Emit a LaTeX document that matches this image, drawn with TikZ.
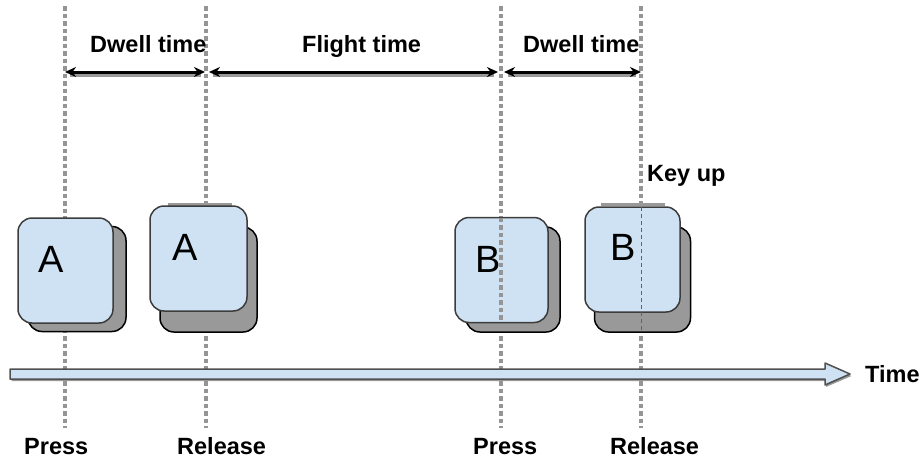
\documentclass[tikz,border=0pt]{standalone}
\usepackage{fontspec}
\setmainfont{Liberation Sans}
\usetikzlibrary{arrows.meta,calc}
\definecolor{keyblue}{HTML}{CFE2F3}
\definecolor{guidegray}{HTML}{959595}
\definecolor{basegray}{HTML}{999999}
\definecolor{edgegray}{HTML}{3C3C3C}
\begin{document}
\begin{tikzpicture}[x=1pt,y=-1pt,
  guide/.style={draw=guidegray,line width=3.5pt,dash pattern=on 4.5pt off 3pt},
  guidethin/.style={draw=edgegray!80,line width=1pt,dash pattern=on 4pt off 3pt},
  keyfront/.style={draw=edgegray,line width=1.5pt,fill=keyblue,rounded corners=14pt,
    minimum width=#1,minimum height=105pt,inner sep=0pt,outer sep=0pt},
  keybase/.style={draw=black,line width=1.5pt,fill=basegray,rounded corners=14pt,
    minimum width=#1,minimum height=105pt,inner sep=0pt,outer sep=0pt},
  keybar/.style={fill=basegray,minimum width=64pt,minimum height=3pt,inner sep=0pt},
  keyletter/.style={font=\fontsize{38}{40}\selectfont,inner sep=0pt,anchor=base west},
  lbl/.style={font=\fontsize{23.5}{26}\selectfont\bfseries,inner sep=0pt,anchor=base west},
  span/.style={line width=3pt,draw=black,{Stealth[length=11pt,width=10pt]}-{Stealth[length=11pt,width=10pt]}},
  spanshade/.style={line width=3pt,draw=basegray,shorten <=4pt,shorten >=4pt},
]
\useasboundingbox (0,0) rectangle (922,464);

% event instants on the time axis
\coordinate (t1) at (65,0);
\coordinate (t2) at (206,0);
\coordinate (t3) at (501,0);
\coordinate (t4) at (641,0);

% vertical guides
\foreach \t in {t1,t2,t3,t4}
  \draw[guide] ($(\t)+(0,6)$) -- ($(\t)+(0,428)$);

% interval arrows
\coordinate (a1) at (65,72);
\coordinate (a2) at (206,72);
\coordinate (a3) at (501,72);
\coordinate (a4) at (641,72);
\draw[spanshade] ($(a1)+(1,3)$) -- ($(a2)+(-1,3)$);
\draw[spanshade] ($(a2)+(3,3)$) -- ($(a3)+(-3,3)$);
\draw[spanshade] ($(a3)+(3,3)$) -- ($(a4)+(-1,3)$);
\draw[span,shorten >=1pt] (a1) -- (a2);
\draw[span,shorten <=3pt,shorten >=3pt] (a2) -- (a3);
\draw[span,shorten <=3pt] (a3) -- (a4);

\node[lbl] (dwell1) at (90,52) {Dwell time};
\node[lbl] (flight) at (302,52) {Flight time};
\node[lbl] (dwell2) at (523,52) {Dwell time};
\node[lbl] (keyup) at (647,181) {Key up};

% key A, pressed
\node[keybase=98pt] (baseA1) at (77,279) {};
\node[keyfront=95pt] (keyA1) at (65.5,270.5) {};
\node[keyletter] (letA1) at (38,272) {A};

% key A, released
\node[keybar] (barA2) at (200,204.5) {};
\node[keybase=97pt] (baseA2) at (208.5,279.5) {};
\node[keyfront=97pt] (keyA2) at (198.5,258.5) {};
\node[keyletter] (letA2) at (172,260) {A};

% key B, pressed
\node[keybase=94pt] (baseB1) at (513,279.5) {};
\node[keyfront=93pt] (keyB1) at (501.5,270) {};
\draw[guide] (keyB1.north -| t3) -- (keyB1.south -| t3);
\node[keyletter] (letB1) at (475,272) {B};

% key B, released
\node[keybar] (barB2) at (632.5,204.5) {};
\node[keybase=96pt] (baseB2) at (642.5,279.5) {};
\node[keyfront=95pt] (keyB2) at (632.5,259.5) {};
\draw[guidethin] (keyB2.north -| t4) -- (baseB2.south -| t4);
\node[keyletter] (letB2) at (610,260) {B};

% time axis
\coordinate (ts) at (10,374);
\coordinate (te) at (850,374);
\fill[basegray] ($(ts)+(1.5,-3)$) -- ($(te)+(-24,-3)$) -- ($(te)+(-24,-9)$)
  -- ($(te)+(1.5,2)$) -- ($(te)+(-24,13)$) -- ($(te)+(-24,7)$) -- ($(ts)+(1.5,7)$) -- cycle;
\draw[draw=edgegray!90,line width=1.5pt,fill=keyblue,line join=round]
  ($(ts)+(0,-5)$) -- ($(te)+(-25,-5)$) -- ($(te)+(-25,-11)$) -- (te)
  -- ($(te)+(-25,11)$) -- ($(te)+(-25,5)$) -- ($(ts)+(0,5)$) -- cycle;
\node[lbl] (time) at (865,382) {Time};

% event names
\node[lbl] (press1) at (24,454) {Press};
\node[lbl] (rel1) at (177,454) {Release};
\node[lbl] (press2) at (473,454) {Press};
\node[lbl] (rel2) at (610,454) {Release};
\end{tikzpicture}
\end{document}
